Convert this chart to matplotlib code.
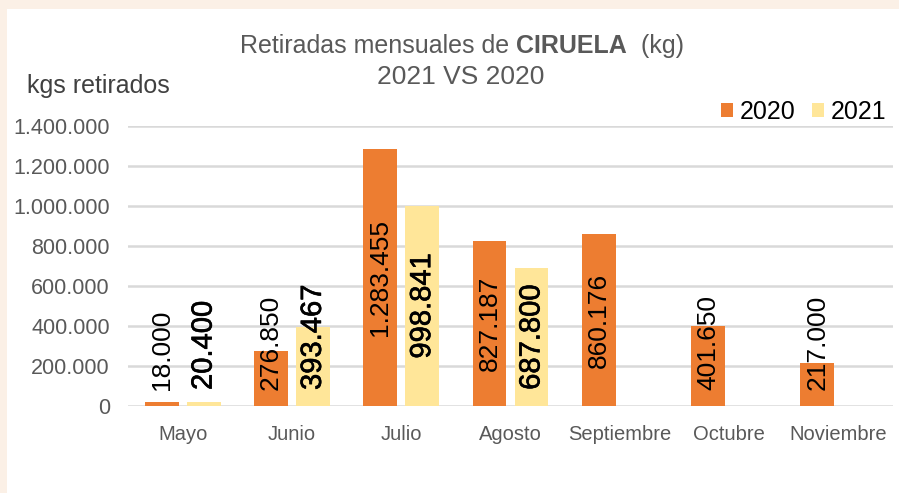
import matplotlib
matplotlib.use("Agg")
import matplotlib.pyplot as plt
import matplotlib.patheffects as pe
from matplotlib.patches import Rectangle
import numpy as np

months = ["Mayo", "Junio", "Julio", "Agosto", "Septiembre", "Octubre", "Noviembre"]
kg_2020 = [18000, 276850, 1283455, 827187, 860176, 401650, 217000]
kg_2021 = [20400, 393467, 998841, 687800, None, None, None]
yticks = [0, 200000, 400000, 600000, 800000, 1000000, 1200000, 1400000]

C2020 = "#ED7D31"
C2021 = "#FFE699"
GRID = "#D9D9D9"
TXT = "#595959"
FONT = ["Liberation Sans", "DejaVu Sans"]

plt.rcParams["font.family"] = FONT


def fmt(v):
    return f"{v:,.0f}".replace(",", ".")


fig = plt.figure(figsize=(8.99, 4.93), dpi=100, facecolor="#FBF0E6")
panel = Rectangle((7 / 899, 0), 1 - 7 / 899, 1 - 9 / 493,
                  transform=fig.transFigure, facecolor="white",
                  edgecolor="none", zorder=-5)
fig.add_artist(panel)

ax = fig.add_axes([128 / 899, (493 - 406) / 493, (893 - 128) / 899, (406 - 126) / 493])
ax.set_facecolor("none")

x = np.arange(len(months))
w = 0.31
off = 0.192

vals20 = np.array(kg_2020, dtype=float)
vals21 = np.array([np.nan if v is None else v for v in kg_2021], dtype=float)

ax.bar(x - off, vals20, width=w, color=C2020, zorder=2, label="2020")
ax.bar(x + off, vals21, width=w, color=C2021, zorder=2, label="2021")

ax.set_xlim(-0.5, len(months) - 0.5)
ax.set_ylim(0, 1400000)
ax.set_yticks(yticks)
ax.set_yticklabels([fmt(v) for v in yticks], color=TXT, fontsize=15.5)
ax.set_xticks(x)
ax.set_xticklabels(months, color=TXT, fontsize=14.5)
ax.tick_params(axis="both", length=0)
ax.tick_params(axis="y", pad=13)
ax.tick_params(axis="x", pad=14)
for s in ax.spines.values():
    s.set_visible(False)
ax.grid(axis="y", color=GRID, linewidth=1.8, zorder=1)
ax.set_axisbelow(True)

# value labels, centred in each bar, pushed up when the bar is too short;
# the 2021 ones are larger and slightly heavier
heavy = [pe.withStroke(linewidth=0.45, foreground="black")]
labels = []
for xs, vals, size, effects in ((x - off, vals20, 19, None), (x + off, vals21, 21, heavy)):
    for xi, v in zip(xs, vals):
        if np.isnan(v):
            continue
        t = ax.text(xi, v / 2, fmt(v), rotation=90, ha="center", va="center",
                    fontsize=size, color="black", zorder=3)
        if effects:
            t.set_path_effects(effects)
        labels.append(t)

leg = ax.legend(loc="upper right", bbox_to_anchor=((886 - 128) / 765, 1.0 + 26 / 280),
                ncol=2, frameon=False, fontsize=18, handlelength=0.5,
                handleheight=0.5, handletextpad=0.25, columnspacing=0.65,
                borderaxespad=0, borderpad=0)

fig.canvas.draw()
renderer = fig.canvas.get_renderer()
base_px = ax.transData.transform((0, 0))[1]
min_gap = 16
for t in labels:
    bb = t.get_window_extent(renderer)
    if bb.y0 < base_px + min_gap:
        shift = base_px + min_gap - bb.y0
        xd, yd = t.get_position()
        ypx = ax.transData.transform((xd, yd))[1] + shift
        t.set_position((xd, ax.transData.inverted().transform((0, ypx))[1]))

# title, with the fruit name in bold, assembled from three pieces
title_parts = [("Retiradas mensuales de ", "normal"), ("CIRUELA", "bold"), ("  (kg)", "normal")]
title_size = 18
pieces = []
for s, wgt in title_parts:
    pieces.append(fig.text(0, 1 - 46 / 493, s, ha="left", va="center",
                           fontsize=title_size, color=TXT, fontweight=wgt))
fig.canvas.draw()
widths = [p.get_window_extent(renderer).width for p in pieces]
total = sum(widths)
xstart = 462 - total / 2
for p, wd in zip(pieces, widths):
    p.set_x(xstart / 899)
    xstart += wd

fig.text(461 / 899, 1 - 77 / 493, "2021 VS 2020", ha="center", va="center",
         fontsize=19, color=TXT)
fig.text(27 / 899, 1 - 86 / 493, "kgs retirados", ha="left", va="center",
         fontsize=18, color="#404040")

fig.savefig("out.png", dpi=100, facecolor=fig.get_facecolor())
